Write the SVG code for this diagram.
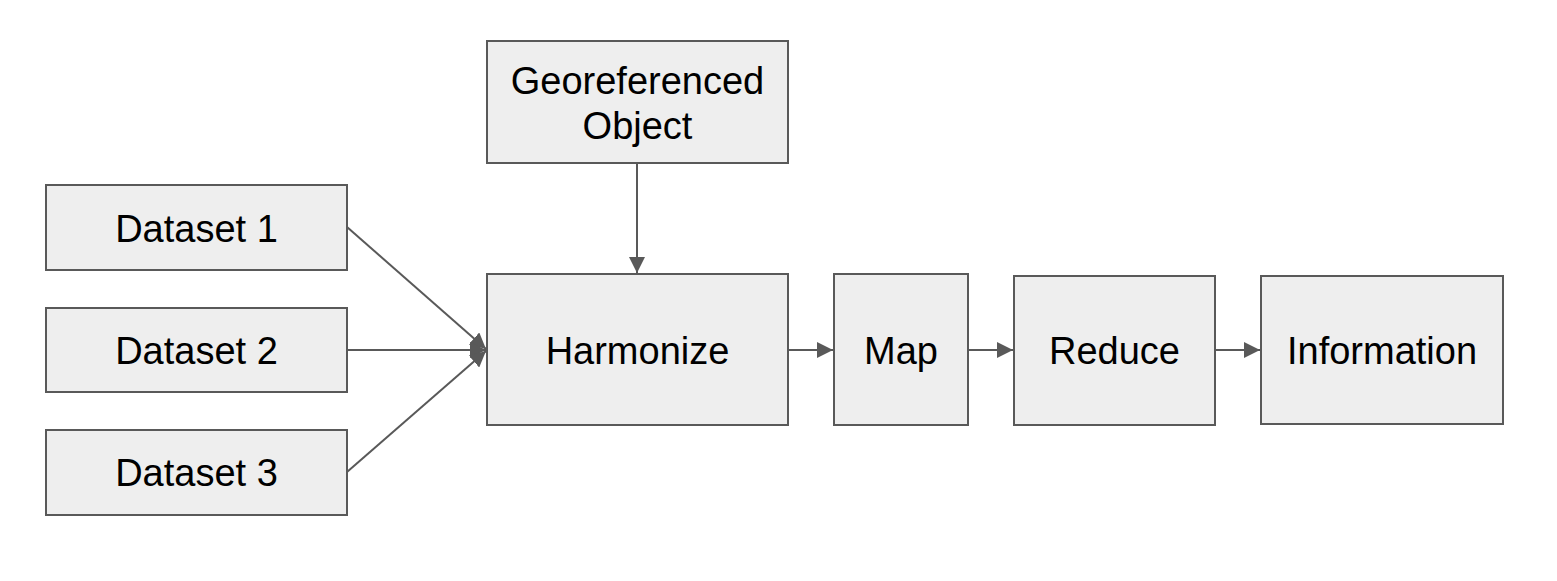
<svg xmlns="http://www.w3.org/2000/svg" width="1557" height="581" viewBox="0 0 1557 581">
<defs>
<style>
.box{fill:#eeeeee;stroke:#595959;stroke-width:2}
.lbl{font-family:"Liberation Sans",Arial,sans-serif;font-size:38px;fill:#000;text-anchor:middle;dominant-baseline:central}
.edge{stroke:#595959;stroke-width:2;fill:none}
</style>
<marker id="ah" viewBox="0 0 10 10" refX="10" refY="5" markerWidth="8" markerHeight="8" markerUnits="strokeWidth" orient="auto">
<path d="M0,0 L10,5 L0,10 z" fill="#595959"/>
</marker>
</defs>
<rect width="1557" height="581" fill="#fff"/>
<g id="connectors">
<line class="edge" x1="347" y1="227" x2="486" y2="349" marker-end="url(#ah)"/>
<line class="edge" x1="347" y1="350" x2="486" y2="350" marker-end="url(#ah)"/>
<line class="edge" x1="347" y1="472" x2="486" y2="351" marker-end="url(#ah)"/>
<line class="edge" x1="637" y1="163" x2="637" y2="273" marker-end="url(#ah)"/>
<line class="edge" x1="788" y1="350" x2="833" y2="350" marker-end="url(#ah)"/>
<line class="edge" x1="968" y1="350" x2="1013" y2="350" marker-end="url(#ah)"/>
<line class="edge" x1="1215" y1="350" x2="1260" y2="350" marker-end="url(#ah)"/>
</g>
<g id="geo"><rect class="box" x="487" y="41" width="301" height="122"/><text class="lbl" x="637.5" y="81">Georeferenced</text><text class="lbl" x="637.5" y="126">Object</text></g>
<g id="ds1"><rect class="box" x="46" y="185" width="301" height="85"/><text class="lbl" x="196.5" y="229">Dataset 1</text></g>
<g id="ds2"><rect class="box" x="46" y="308" width="301" height="84"/><text class="lbl" x="196.5" y="351">Dataset 2</text></g>
<g id="ds3"><rect class="box" x="46" y="430" width="301" height="85"/><text class="lbl" x="196.5" y="473">Dataset 3</text></g>
<g id="harmonize"><rect class="box" x="487" y="274" width="301" height="151"/><text class="lbl" x="637.5" y="351">Harmonize</text></g>
<g id="map"><rect class="box" x="834" y="274" width="134" height="151"/><text class="lbl" x="901" y="351">Map</text></g>
<g id="reduce"><rect class="box" x="1014" y="276" width="201" height="149"/><text class="lbl" x="1114.5" y="351">Reduce</text></g>
<g id="info"><rect class="box" x="1261" y="276" width="242" height="148"/><text class="lbl" x="1382" y="351">Information</text></g>
</svg>
